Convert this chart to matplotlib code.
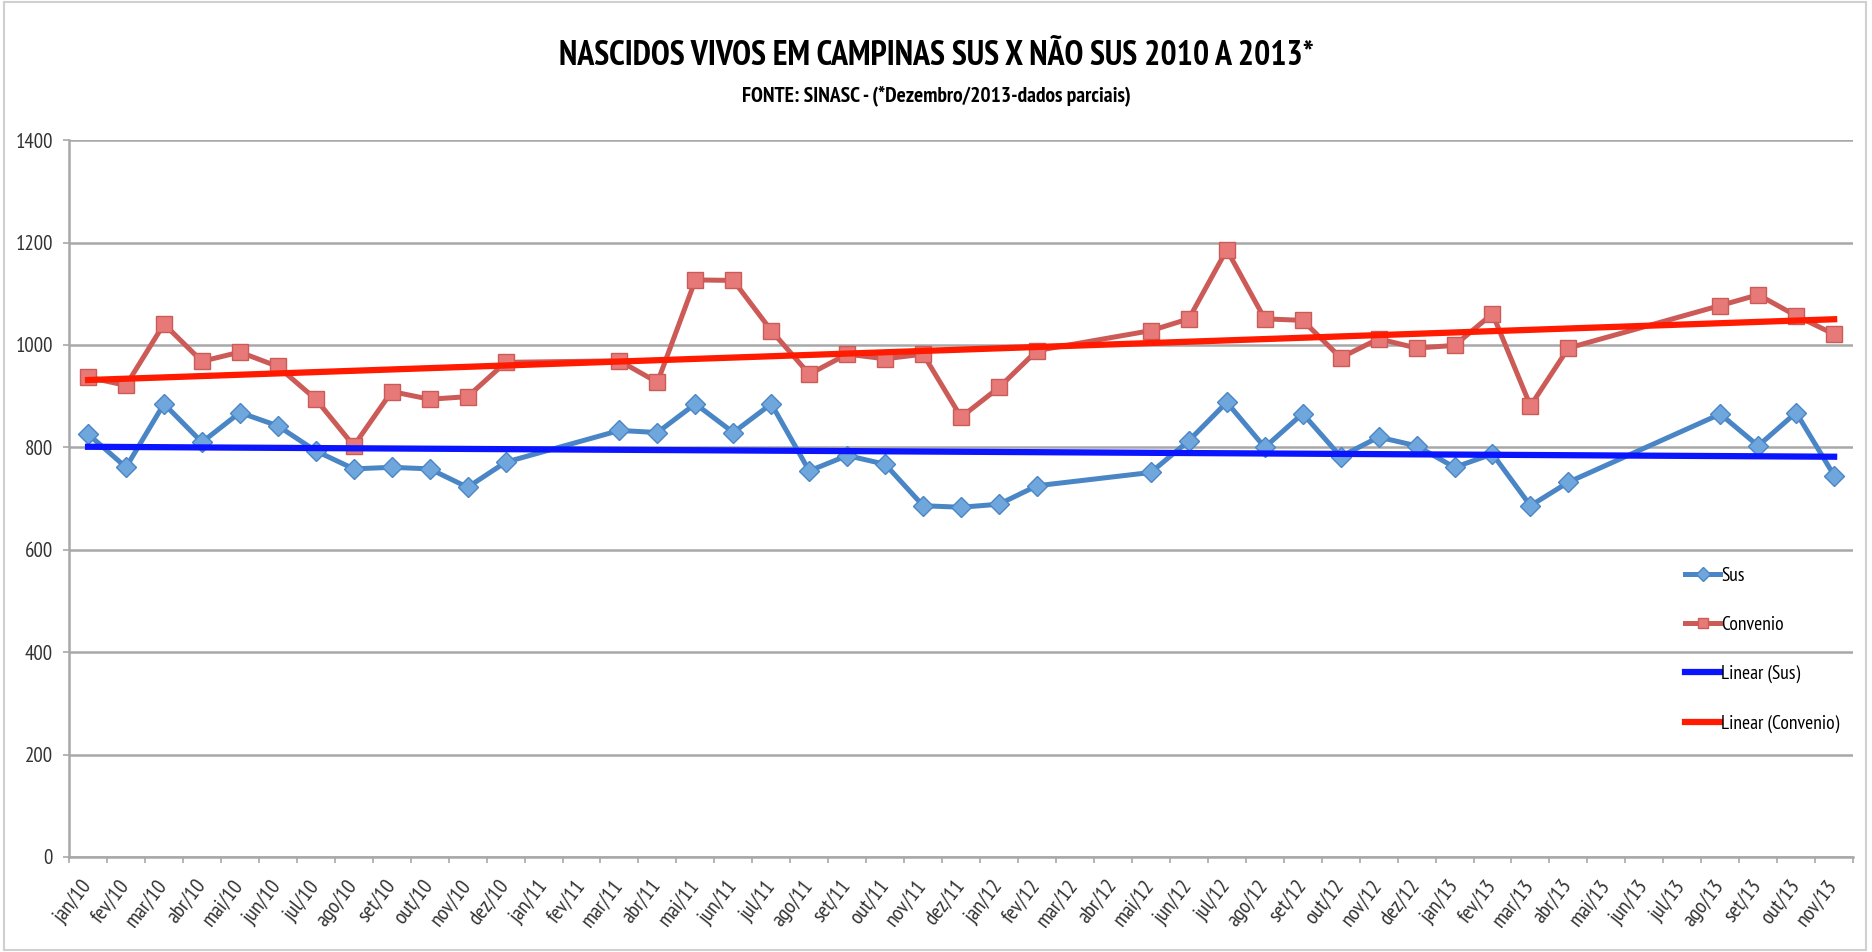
import matplotlib
matplotlib.use('Agg')
import matplotlib.pyplot as plt
import numpy as np

plt.rcParams['font.family'] = ['PT Sans Narrow', 'Carlito', 'DejaVu Sans']

# month labels, jan/10 .. nov/13
meses = ['jan', 'fev', 'mar', 'abr', 'mai', 'jun', 'jul', 'ago', 'set', 'out', 'nov', 'dez']
labels = [m + '/' + a for a in ['10', '11', '12', '13'] for m in meses][:47]

nan = np.nan
# values (nan = month without data)
sus = [826, 761, 885, 810, 868, 842, 793, 758, 761, 758, 722, 771,
       nan, nan, 833, 829, 885, 829, 885, 754, 784, 767, 686, 683,
       689, 725, nan, nan, 751, 813, 888, 800, 866, 782, 820, 803,
       761, 787, 686, 732, nan, nan, nan, 865, 803, 868, 745]
convenio = [937, 921, 1041, 968, 986, 958, 894, 803, 909, 894, 899, 966,
            nan, nan, 969, 927, 1127, 1126, 1028, 943, 982, 973, 982, 859,
            917, 989, nan, nan, 1028, 1051, 1186, 1051, 1048, 975, 1012, 994,
            999, 1061, 881, 994, nan, nan, nan, 1077, 1098, 1057, 1021]

x = np.arange(len(labels))
sus = np.array(sus, dtype=float)
convenio = np.array(convenio, dtype=float)

fig = plt.figure(figsize=(18.72, 9.52), dpi=100)
ax = fig.add_axes([0.0369, 0.0998, 0.953, 0.753])

# figure border
fig.patches.append(plt.Rectangle((0.002, 0.002), 0.995, 0.996, transform=fig.transFigure,
                                 fill=False, edgecolor='#d0d0d0', lw=1.5))

ok_s = ~np.isnan(sus)
ok_c = ~np.isnan(convenio)

ax.plot(x[ok_s], sus[ok_s], color='#4a86c5', lw=3.6, marker='D', markersize=10,
        markerfacecolor='#6fa6dc', markeredgecolor='#4a86c5', markeredgewidth=1,
        label='Sus', zorder=3)
ax.plot(x[ok_c], convenio[ok_c], color='#cc5a57', lw=3.6, marker='s', markersize=11,
        markerfacecolor='#e77a78', markeredgecolor='#cc5a57', markeredgewidth=1,
        label='Convenio', zorder=3)

# linear trendlines
ps = np.polyfit(x[ok_s], sus[ok_s], 1)
pc = np.polyfit(x[ok_c], convenio[ok_c], 1)
ax.plot(x, np.polyval(ps, x), color='#0a14ff', lw=4.5, label='Linear (Sus)', zorder=4)
ax.plot(x, np.polyval(pc, x), color='#ff1a00', lw=4.5, label='Linear (Convenio)', zorder=4)

ax.set_ylim(0, 1400)
ax.set_xlim(-0.5, len(labels) - 0.5)
ax.set_yticks(range(0, 1401, 200))
ax.yaxis.grid(True, color='#a8a8a8', lw=1.8)
ax.set_axisbelow(True)

ax.set_xticks(x)
ax.set_xticklabels(labels, rotation=52, ha='right', va='center', rotation_mode='anchor',
                   fontsize=15.5, color='#333333')
ax.set_xticks(np.arange(-0.5, len(labels), 1), minor=True)
ax.tick_params(axis='x', which='major', length=0, pad=18)
ax.tick_params(axis='x', which='minor', length=4.5, color='#a8a8a8', width=1.2)
ax.tick_params(axis='y', length=4.5, color='#a8a8a8', width=1.2, labelsize=15,
               labelcolor='#333333', pad=7)

for s in ['top', 'right']:
    ax.spines[s].set_visible(False)
ax.spines['left'].set_color('#a8a8a8')
ax.spines['left'].set_linewidth(1.8)
ax.spines['bottom'].set_color('#a8a8a8')
ax.spines['bottom'].set_linewidth(1.8)

title = fig.text(0.5, 0.941, 'NASCIDOS VIVOS EM CAMPINAS SUS X NÃO SUS 2010 A 2013*',
                 ha='center', va='center', fontsize=26, fontweight='bold')
sub = fig.text(0.5, 0.8997, 'FONTE: SINASC - (*Dezembro/2013-dados parciais)',
               ha='center', va='center', fontsize=14, fontweight='bold')

# fit title widths to the reference (pixels)
renderer = fig.canvas.get_renderer()
for t, target in [(title, 752), (sub, 388)]:
    for _ in range(3):
        w = t.get_window_extent(renderer).width
        t.set_fontsize(t.get_fontsize() * target / w)

ax.legend(loc='upper left', bbox_to_anchor=(0.891, 0.423), bbox_transform=fig.transFigure,
          frameon=False, fontsize=14, handlelength=1.8, handletextpad=0.05,
          labelspacing=1.6, markerscale=0.7)

fig.savefig('out.png', dpi=100)
